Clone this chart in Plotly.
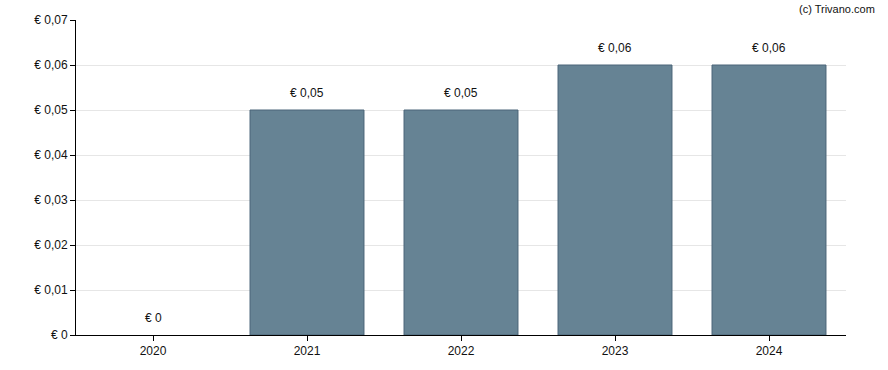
import plotly.graph_objects as go

years = ["2020", "2021", "2022", "2023", "2024"]
dividends = [0.0, 0.05, 0.05, 0.06, 0.06]
labels = ["€ 0", "€ 0,05", "€ 0,05", "€ 0,06", "€ 0,06"]
tick_vals = [0, 0.01, 0.02, 0.03, 0.04, 0.05, 0.06, 0.07]
tick_text = ["€ 0", "€ 0,01", "€ 0,02", "€ 0,03", "€ 0,04", "€ 0,05", "€ 0,06", "€ 0,07"]

FONT = "Liberation Sans, Arial, sans-serif"

fig = go.Figure()
fig.add_trace(go.Bar(
    x=years, y=dividends, width=0.74,
    marker=dict(color="#668394",
                line=dict(color="#4a6478", width=[0 if v == 0 else 1 for v in dividends])),
    hoverinfo="skip",
))
# category axis: annotation x given as category index
for i, (v, lab) in enumerate(zip(dividends, labels)):
    fig.add_annotation(
        x=i, y=v, xref="x", yref="y", text=lab, showarrow=False,
        xanchor="center", yanchor="bottom",
        yshift=8, font=dict(family=FONT, size=12, color="#111111"),
    )
fig.update_layout(
    width=888, height=370,
    margin=dict(l=76, r=42, t=20, b=35),
    plot_bgcolor="white", paper_bgcolor="white",
    showlegend=False,
    font=dict(family=FONT, size=12, color="#111111"),
)
fig.update_xaxes(
    type="category", range=[-0.5, 4.5],
    showline=True, linecolor="#000000", linewidth=1,
    ticks="outside", ticklen=5, tickcolor="#000000",
    showgrid=False, tickfont=dict(size=12),
)
fig.update_yaxes(
    range=[0, 0.07], tickvals=tick_vals, ticktext=tick_text,
    showline=True, linecolor="#000000", linewidth=1,
    ticks="outside", ticklen=5, tickcolor="#000000",
    showgrid=True, gridcolor="#e6e6e6", gridwidth=1,
    zeroline=False, tickfont=dict(size=12),
)
fig.add_annotation(
    text="(c) Trivano.com", xref="paper", yref="paper",
    x=1.04, y=1.0, xanchor="right", yanchor="bottom", yshift=3,
    showarrow=False, font=dict(family=FONT, size=11, color="#111111"),
)
fig.write_html("out.html", config={"displayModeBar": False},
               post_script="document.body.style.margin='0';document.body.style.padding='0';")
